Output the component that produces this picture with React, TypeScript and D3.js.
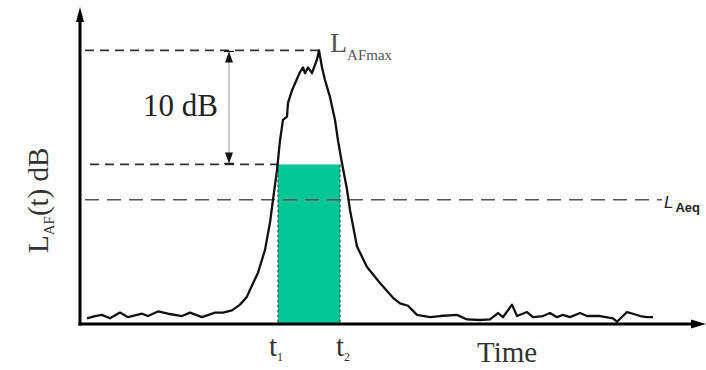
import React from "react";
import * as d3 from "d3";

// time (arbitrary units) and level L_AF(t) in dB
const times = [0.7, 1.5, 2.2, 3.0, 4.0, 4.8, 6.2, 6.8, 7.8, 8.8, 10.2, 11.0, 12.2, 13.5, 14.3, 15.2, 16.0, 16.7, 17.0, 17.8, 18.5, 19.0, 19.3, 19.7, 20.0, 20.3, 20.7, 20.8, 21.2, 21.5, 22.0, 22.3, 22.5, 22.8, 23.2, 23.4, 23.7, 23.9, 24.2, 24.5, 25.0, 25.5, 25.8, 26.2, 26.7, 27.0, 27.7, 28.7, 30.0, 31.3, 32.0, 32.8, 33.7, 35.0, 36.0, 37.7, 38.7, 40.0, 41.0, 41.8, 42.3, 43.2, 43.7, 44.7, 45.3, 46.3, 47.0, 47.7, 48.3, 49.0, 50.0, 50.7, 52.0, 53.3, 53.7, 54.7, 55.3, 56.0, 56.7, 57.3];
const levels = [66.5, 66.7, 66.8, 66.5, 67.0, 66.6, 66.9, 66.7, 67.1, 66.9, 66.7, 67.0, 66.6, 67.0, 67.0, 67.2, 67.7, 68.4, 69.0, 70.5, 72.5, 74.9, 76.9, 79.5, 82.1, 83.9, 84.2, 85.4, 86.5, 87.1, 88.1, 88.5, 88.0, 88.5, 88.0, 88.5, 89.2, 90.0, 88.5, 87.4, 85.9, 83.9, 82.1, 80.1, 77.8, 76.0, 72.8, 71.0, 69.6, 68.3, 67.8, 67.6, 66.8, 66.6, 66.7, 66.8, 66.4, 66.35, 66.4, 66.96, 66.6, 67.7, 66.7, 67.05, 66.6, 66.7, 66.96, 66.6, 66.8, 66.6, 66.96, 66.7, 66.7, 66.5, 66.2, 67.05, 66.9, 66.7, 66.6, 66.6];

const LAFmax = 90;
const L10down = 80;
const LAeq = 76.9;
const t1 = 19.8;
const t2 = 26.0;
const tEnd = 62.6;
const yDomain = [66, 94];

export default function App() {
  const W = 706, H = 370;
  const x = d3.scaleLinear().domain([0, tEnd]).range([80, 706]);
  const y = d3.scaleLinear().domain(yDomain).range([324, 4.8]);
  const data = times.map((t, i) => [t, levels[i]] as [number, number]);
  const line = d3.line<[number, number]>().x(d => x(d[0])).y(d => y(d[1]));
  const x0 = x(0), yb = y(yDomain[0]);
  const serif = "'Liberation Serif', 'Times New Roman', serif";
  const sans = "'Liberation Sans', Arial, sans-serif";

  return (
    <svg width={W} height={H} style={{ position: "absolute", left: 0, top: 0, background: "#fff" }}>
      {/* green rectangle */}
      <rect x={x(t1)} y={y(L10down)} width={x(t2) - x(t1)} height={yb - y(L10down)} fill="#05c795" />
      <line x1={x(t1)} x2={x(t1)} y1={y(L10down)} y2={yb} stroke="#2a5a50" strokeWidth={1.2} strokeDasharray="3 2" />
      <line x1={x(t2)} x2={x(t2)} y1={y(L10down)} y2={yb} stroke="#2a5a50" strokeWidth={1.2} strokeDasharray="3 2" />

      {/* dashed reference lines */}
      <line x1={x0 + 5} x2={x(23.9)} y1={y(LAFmax)} y2={y(LAFmax)} stroke="#333" strokeWidth={1.6} strokeDasharray="9 6" />
      <line x1={x0 + 10} x2={x(t1)} y1={y(L10down)} y2={y(L10down)} stroke="#333" strokeWidth={1.6} strokeDasharray="9 6" />
      <line x1={x0 + 5} x2={x(58.2)} y1={y(LAeq)} y2={y(LAeq)} stroke="#555" strokeWidth={1.6} strokeDasharray="14 8" />

      {/* 10 dB double arrow */}
      <line x1={229} x2={229} y1={y(LAFmax) + 2} y2={y(L10down) - 2} stroke="#999" strokeWidth={1} />
      <path d={`M229,${y(LAFmax) + 1} L225,${y(LAFmax) + 12} L233,${y(LAFmax) + 12} Z`} fill="#111" />
      <line x1={224} x2={234} y1={y(LAFmax) + 1} y2={y(LAFmax) + 1} stroke="#111" strokeWidth={1.2} />
      <path d={`M229,${y(L10down) - 1} L225,${y(L10down) - 12} L233,${y(L10down) - 12} Z`} fill="#111" />
      <line x1={224} x2={234} y1={y(L10down) - 1} y2={y(L10down) - 1} stroke="#111" strokeWidth={1.2} />

      {/* signal */}
      <path d={line(data) || ""} fill="none" stroke="#111" strokeWidth={2.3} strokeLinejoin="round" />

      {/* axes */}
      <line x1={x0} x2={x0} y1={yb + 1.5} y2={16} stroke="#000" strokeWidth={3} />
      <path d={`M${x0},7 L${x0 - 4},22 L${x0 + 4},22 Z`} fill="#000" />
      <line x1={x0 - 1.5} x2={694} y1={yb} y2={yb} stroke="#000" strokeWidth={3} />
      <path d={`M706,${yb} L691,${yb - 4.5} L691,${yb + 4.5} Z`} fill="#000" />

      {/* texts */}
      <text x={143} y={116} fontFamily={serif} fontSize={31} fill="#222">10 dB</text>
      <text x={330} y={52} fontFamily={serif} fontSize={28} fill="#555">
        L<tspan fontSize={15} dy={8}>AFmax</tspan>
      </text>
      <text x={664} y={208} fontFamily={sans} fontSize={17} fontStyle="italic" fill="#222">
        L<tspan fontSize={13} fontStyle="normal" fontWeight="bold" dy={4} dx={2}>Aeq</tspan>
      </text>
      <text transform="translate(48,253) rotate(-90)" fontFamily={serif} fontSize={29} fill="#333">
        L<tspan fontSize={15} dy={6}>AF</tspan><tspan dy={-6}>(t) dB</tspan>
      </text>
      <text x={269} y={356} fontFamily={serif} fontSize={29} fill="#333">
        t<tspan fontSize={12} dy={5}>1</tspan>
      </text>
      <text x={336} y={356} fontFamily={serif} fontSize={29} fill="#333">
        t<tspan fontSize={12} dy={5}>2</tspan>
      </text>
      <text x={477} y={362} fontFamily={serif} fontSize={29} fill="#333">Time</text>
    </svg>
  );
}
